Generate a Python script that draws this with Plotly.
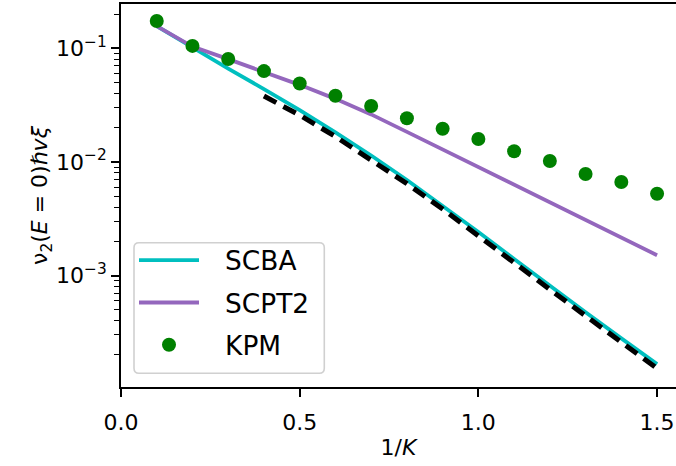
import plotly.graph_objects as go

# data
x_kpm = [0.1, 0.2, 0.3, 0.4, 0.5, 0.6, 0.7, 0.8, 0.9, 1.0, 1.1, 1.2, 1.3, 1.4, 1.5]
y_kpm = [0.174, 0.105, 0.0805, 0.063, 0.0490, 0.0382, 0.0311, 0.0242, 0.0196,
         0.0159, 0.0124, 0.0102, 0.00782, 0.00665, 0.00525]

x_line = [0.1, 0.2, 0.3, 0.4, 0.5, 0.6, 0.7, 0.8, 0.9, 1.0, 1.1, 1.2, 1.3, 1.4, 1.5]
y_scba = [0.157, 0.1014, 0.0662, 0.0438, 0.0286, 0.01824, 0.01138, 0.00693,
          0.00413, 0.00242, 0.00140, 0.000811, 0.000475, 0.000280, 0.000166]
y_scpt2 = [0.157, 0.1035, 0.0803, 0.0624, 0.0477, 0.0359, 0.0262, 0.0184,
           0.01288, 0.00902, 0.00635, 0.00447, 0.00311, 0.00217, 0.00151]

x_asym = [0.4, 0.5, 0.6, 0.7, 0.8, 0.9, 1.0, 1.1, 1.2, 1.3, 1.4, 1.5]
y_asym = [0.0380, 0.0258, 0.01671, 0.01052, 0.00644, 0.00385, 0.00226,
          0.001306, 0.000755, 0.000442, 0.000259, 0.0001524]

x_ticks = [0.0, 0.5, 1.0, 1.5]
x_ticktext = ["0.0", "0.5", "1.0", "1.5"]
y_ticks = [1e-3, 1e-2, 1e-1]
y_ticktext = ["10<sup>−3</sup>", "10<sup>−2</sup>", "10<sup>−1</sup>"]
y_minor = [m * 10.0 ** e for e in (-4, -3, -2) for m in range(2, 10)] + [0.2]

FONT = "DejaVu Sans"
PAD = "\u2002\u2009\u200a"

# plot-area geometry in pixels (for the legend frame)
W, H = 676, 466
ML, MR, MT, MB = 121, 0, 4, 79
PW, PH = W - ML - MR, H - MT - MB


def px_x(p):
    return (p - ML) / PW


def px_y(p):
    return (H - MB - p) / PH


def rounded_rect(x0, y0, x1, y1, r):
    rx, ry = r / PW, r / PH
    a, b = px_x(x0), px_x(x1)
    top, bot = px_y(y0), px_y(y1)
    return (f"M {a + rx},{top} L {b - rx},{top} Q {b},{top} {b},{top - ry} "
            f"L {b},{bot + ry} Q {b},{bot} {b - rx},{bot} "
            f"L {a + rx},{bot} Q {a},{bot} {a},{bot + ry} "
            f"L {a},{top - ry} Q {a},{top} {a + rx},{top} Z")


fig = go.Figure()
fig.add_trace(go.Scatter(x=x_line, y=y_scba, mode="lines", name=PAD + "SCBA",
                         legendgroup="a",
                         line=dict(color="#00bfbf", width=3.8)))
fig.add_trace(go.Scatter(x=x_line, y=y_scpt2, mode="lines", name=PAD + "SCPT2",
                         legendgroup="b",
                         line=dict(color="#9467bd", width=3.8)))
fig.add_trace(go.Scatter(x=x_asym, y=y_asym, mode="lines", showlegend=False,
                         line=dict(color="black", width=5, dash="14px,8px")))
fig.add_trace(go.Scatter(x=x_kpm, y=y_kpm, mode="markers", name=PAD + "KPM",
                         legendgroup="c",
                         marker=dict(color="#008000", size=14)))

fig.add_shape(type="path", xref="paper", yref="paper", layer="above",
              path=rounded_rect(134, 242.7, 324.3, 373.3, 5),
              fillcolor="rgba(255,255,255,0.8)",
              line=dict(color="#d0d0d0", width=1.6))

fig.update_layout(
    width=W, height=H,
    margin=dict(l=ML, r=MR, t=MT, b=MB),
    paper_bgcolor="white", plot_bgcolor="white",
    font=dict(family=FONT, size=22, color="black"),
    showlegend=True,
    legend=dict(
        x=px_x(134), y=px_y(236.5),
        xanchor="left", yanchor="top",
        bgcolor="rgba(0,0,0,0)", borderwidth=0,
        font=dict(family=FONT, size=26.4, color="black"),
        itemwidth=60, tracegroupgap=5,
    ),
    xaxis=dict(
        range=[0, 1.553], tickvals=x_ticks, ticktext=x_ticktext,
        showgrid=False, zeroline=False,
        showline=True, linecolor="black", linewidth=1.6, mirror=True,
        ticks="outside", ticklen=8, tickwidth=1.6, tickcolor="black",
        ticklabelstandoff=7,
        tickfont=dict(family=FONT, size=22, color="black"),
        title=dict(text="1/<i>K</i>", font=dict(family=FONT, size=22, color="black"), standoff=5),
    ),
    yaxis=dict(
        type="log", range=[-3.981, -0.610],
        tickvals=y_ticks, ticktext=y_ticktext,
        showgrid=False, zeroline=False,
        showline=True, linecolor="black", linewidth=1.6, mirror=False,
        ticks="outside", ticklen=8, tickwidth=1.6, tickcolor="black",
        tickfont=dict(family=FONT, size=22, color="black"),
        minor=dict(tickvals=y_minor, ticks="outside", ticklen=5, tickwidth=1.2,
                   tickcolor="black", showgrid=False),
        title=dict(text="ν<sub>2</sub>(<i>E</i> = 0)ℏ<i>vξ</i>",
                   font=dict(family=FONT, size=22, color="black"), standoff=0),
    ),
)

fig.write_html("out.html")
